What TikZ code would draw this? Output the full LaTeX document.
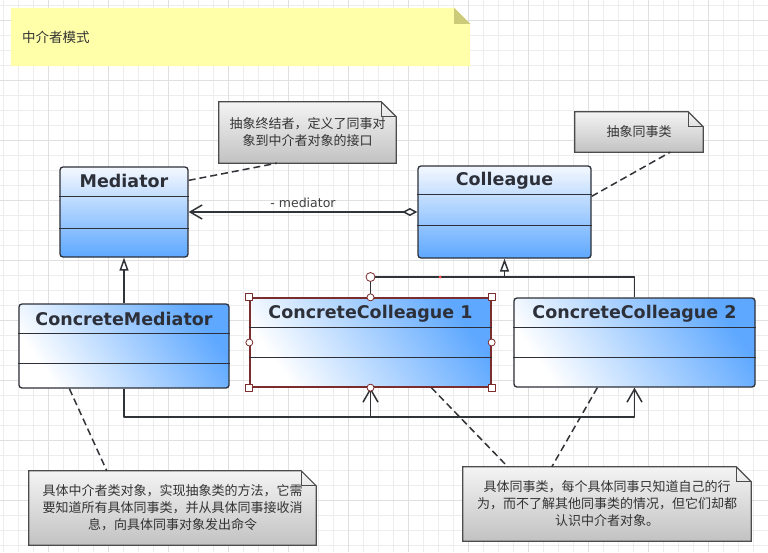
\documentclass[tikz,border=0pt]{standalone}
\usepackage{fontspec}
\setmainfont{Noto Sans CJK SC}
\newfontfamily\clsfont{DejaVu Sans}
\usetikzlibrary{arrows.meta,calc,positioning}
\pgfdeclarelayer{bg}
\pgfsetlayers{bg,main}
\definecolor{lineclr}{HTML}{303338}
\definecolor{clsedge}{HTML}{2D3038}
\definecolor{clsblue}{HTML}{5EA8FF}
\definecolor{clstop}{HTML}{F4F8FE}
\definecolor{selred}{HTML}{7B2D2D}
\definecolor{titlebg}{HTML}{FFFFAA}
\definecolor{titlefold}{HTML}{CBCB7A}
\definecolor{notetop}{HTML}{F4F4F4}
\definecolor{notebot}{HTML}{C2C2C2}
\tikzset{cls/.style={draw=clsedge, line width=1.3pt, rounded corners=3pt, top color=clstop, bottom color=clsblue, inner sep=0pt},
ccls/.style={cls, left color=white, right color=clsblue, shading angle=125},
selected/.style={draw=selred, rounded corners=0pt},
clsname/.style={font=\clsfont\bfseries\fontsize{17.5}{20}\selectfont, text=clsedge, inner sep=0pt},
clsline/.style={draw=clsedge, line width=1.3pt},
note/.style={font=\fontsize{13}{17}\selectfont, text=black!80, align=center, inner sep=0pt},
noteshade/.style={top color=notetop, bottom color=notebot, draw=black!70, line width=1.2pt},
noteline/.style={draw=black!70, line width=1.2pt},
titlenote/.style={font=\fontsize{13.5}{16}\selectfont, text=black!80, minimum width=459pt, minimum height=58pt, text width=437pt, align=left, inner sep=0pt},
link/.style={draw=lineclr, line width=1.5pt},
aggr/.style={link, {Diamond[open,length=15pt,width=8pt,fill=white]}-{Straight Barb[length=12pt,width=14pt]}},
assoc/.style={link, -{Straight Barb[length=13pt,width=15pt]}},
inherit/.style={link, -{Triangle[open,length=13pt,width=9pt,fill=white]}},
notelink/.style={draw=lineclr, line width=1.5pt, dash pattern=on 7pt off 4pt},
lbl/.style={font=\clsfont\fontsize{12.5}{14}\selectfont, text=black!75, inner sep=1pt},
hsq/.style={draw=selred, fill=white, line width=0.8pt, minimum size=7pt, inner sep=0pt},
hci/.style={hsq, circle},
hdot/.style={circle, fill=red!70, minimum size=3pt, inner sep=0pt}}
\newcommand{\notebg}[1]{%
\shadedraw[noteshade] (#1.north west) -- ([xshift=-15pt]#1.north east) -- ([yshift=-15pt]#1.north east) -- (#1.south east) -- (#1.south west) -- cycle;
\draw[noteline] ([xshift=-15pt]#1.north east) -- ++(0,15) -- ++(15,0);}

\begin{document}
\begin{tikzpicture}[x=1pt, y=-1pt, line join=round]
\useasboundingbox (0,0) rectangle (768,552);
\node[titlenote] (T) at (240.5,37) {中介者模式};
% classes
\node[cls, minimum width=128pt, minimum height=90pt] (M) at (124,212) {};
\node[cls, minimum width=173pt, minimum height=92pt] (C) at (504.5,212) {};
\node[ccls, minimum width=210pt, minimum height=84pt] (CM) at (124,346) {};
\node[ccls, selected, minimum width=241pt, minimum height=89pt] (CC1) at (370.5,342.5) {};
\node[ccls, minimum width=241pt, minimum height=89pt] (CC2) at (634.5,342.5) {};
\node[clsname] (Mn) at ([yshift=-15pt]M.north) {Mediator};
\node[clsname] (Cn) at ([yshift=-15pt]C.north) {Colleague};
\node[clsname] (CMn) at ([yshift=-16pt]CM.north) {ConcreteMediator};
\node[clsname] (CC1n) at ([yshift=-16pt]CC1.north) {ConcreteColleague 1};
\node[clsname] (CC2n) at ([yshift=-16pt]CC2.north) {ConcreteColleague 2};
\draw[clsline] ([yshift=-30pt]M.north west) -- ([yshift=-30pt]M.north east);
\draw[clsline] ([yshift=-62pt]M.north west) -- ([yshift=-62pt]M.north east);
\draw[clsline] ([yshift=-29pt]C.north west) -- ([yshift=-29pt]C.north east);
\draw[clsline] ([yshift=-60pt]C.north west) -- ([yshift=-60pt]C.north east);
\draw[clsline] ([yshift=-30pt]CM.north west) -- ([yshift=-30pt]CM.north east);
\draw[clsline] ([yshift=-60pt]CM.north west) -- ([yshift=-60pt]CM.north east);
\draw[clsline] ([yshift=-30pt]CC1.north west) -- ([yshift=-30pt]CC1.north east);
\draw[clsline] ([yshift=-60pt]CC1.north west) -- ([yshift=-60pt]CC1.north east);
\draw[clsline] ([yshift=-30pt]CC2.north west) -- ([yshift=-30pt]CC2.north east);
\draw[clsline] ([yshift=-60pt]CC2.north west) -- ([yshift=-60pt]CC2.north east);
% notes
\node[note, minimum width=177pt, minimum height=61pt] (N1) at (307.5,132.5) {抽象终结者，定义了同事对\\象到中介者对象的接口};
\node[note, minimum width=128pt, minimum height=40pt] (N2) at (639,132) {抽象同事类};
\node[note, minimum width=287pt, minimum height=74pt] (N3) at (172.5,508) {具体中介者类对象，实现抽象类的方法，它需\\要知道所有具体同事类，并从具体同事接收消\\息，向具体同事对象发出命令};
\node[note, minimum width=288pt, minimum height=74pt] (N4) at (607,504) {具体同事类，每个具体同事只知道自己的行\\为，而不了解其他同事类的情况，但它们却都\\认识中介者对象。};
\begin{pgfonlayer}{bg}
\fill[white] (0,0) rectangle (768,552);
\begin{scope}[shift={(3,5)}]
\draw[black!7, line width=0.6pt, step=15pt] (-3,-5) grid (765,547);
\end{scope}
\begin{scope}[shift={(48,20)}]
\draw[black!12, line width=0.6pt, step=60pt] (-48,-20) grid (720,532);
\end{scope}
\fill[titlebg] (T.north west) -- ([xshift=-16pt]T.north east) -- ([yshift=-16pt]T.north east) -- (T.south east) -- (T.south west) -- cycle;
\fill[titlefold] ([xshift=-16pt]T.north east) -- ([yshift=-16pt]T.north east) -- ([xshift=-16pt,yshift=-16pt]T.north east) -- cycle;
\notebg{N1}
\notebg{N2}
\notebg{N3}
\notebg{N4}
\end{pgfonlayer}
% connectors
\draw[aggr] (C.west) -- (M.east) node[midway, above=3pt, lbl] (ml) {- mediator};
\draw[inherit] (CM.north) -- (M.south);
\coordinate (G) at (504.5,277);
\draw[link] (CC1.north) |- (G) -| (CC2.north);
\draw[inherit] (G) -- (C.south);
\coordinate (B) at (124,417);
\draw[assoc] (CM.south) -- (B) -| (CC2.south);
\draw[assoc] (CC1.south |- B) -- (CC1.south);
\draw[notelink] ([yshift=-14pt]M.north east) -- ([xshift=58pt]N1.south west);
\draw[notelink] ([yshift=-31pt]C.north east) -- ([xshift=-33pt]N2.south east);
\draw[notelink] ([xshift=51pt]CM.south west) -- ([xshift=78pt]N3.north west);
\draw[notelink] ([xshift=182pt]CC1.south west) -- ([xshift=45pt]N4.north west);
\draw[notelink] ([xshift=84pt]CC2.south west) -- ([xshift=89pt]N4.north west);
% selection handles
\foreach \a [count=\i] in {north west,north east,south west,south east}
  \node[hsq] (hq\i) at (CC1.\a) {};
\foreach \a [count=\i] in {north,south,west,east}
  \node[hci] (hc\i) at (CC1.\a) {};
\node[hci, minimum size=9pt] (hb) at (CC1.north |- G) {};
\node[hdot] (hd) at (440,277) {};
\end{tikzpicture}
\end{document}
